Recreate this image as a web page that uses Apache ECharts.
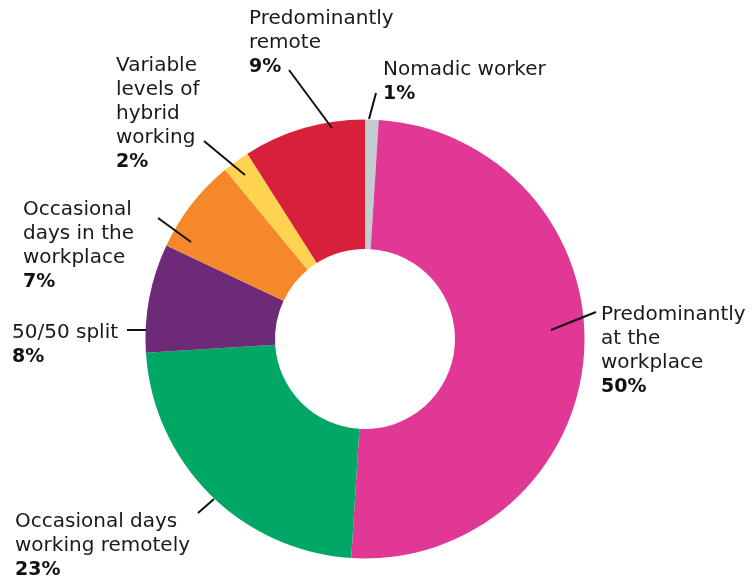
<!DOCTYPE html>
<html>
<head>
<meta charset="utf-8">
<script src="https://cdn.jsdelivr.net/npm/echarts@6/dist/echarts.min.js"></script>
<style>
  html, body { margin: 0; padding: 0; background: #fff; }
  #chart { width: 752px; height: 580px; }
</style>
</head>
<body>
<div id="chart"></div>
<script>
// slices, clockwise from 12 o'clock
const categories = [
    'Nomadic worker',
    'Predominantly\nat the\nworkplace',
    'Occasional days\nworking remotely',
    '50/50 split',
    'Occasional\ndays in the\nworkplace',
    'Variable\nlevels of\nhybrid\nworking',
    'Predominantly\nremote'
]
const shares = [1, 50, 23, 8, 7, 2, 9]
const colors = ['#c4cbd1', '#e03894', '#00a765', '#6c2a77', '#f4882a', '#fed351', '#d9203a']

// where each label block sits and where its leader line runs (label end -> slice end)
const labelPos = [
    { x: 383, y: 58, line: [[376, 93], [369, 119]] },
    { x: 601, y: 303, line: [[596, 312], [551, 330]] },
    { x: 15, y: 510, line: [[198, 513], [214, 499]] },
    { x: 12, y: 321, line: [[127, 330], [146, 330]] },
    { x: 23, y: 198, line: [[158, 218], [191, 242]] },
    { x: 116, y: 54, line: [[204, 141], [245, 175]] },
    { x: 249, y: 7, line: [[289, 70], [332, 128]] }
]

const FONT = '"DejaVu Sans", sans-serif'

const chart = echarts.init(document.getElementById('chart'))
chart.setOption({
    animation: false,
    // leader lines, drawn on top of the ring
    graphic: labelPos.map(p => ({
        type: 'polyline',
        z: 100,
        silent: true,
        shape: { points: p.line },
        style: { stroke: '#111', lineWidth: 2, fill: null }
    })),
    series: [{
        type: 'pie',
        center: [365, 339],
        radius: [90, 219.5],
        startAngle: 90,
        clockwise: true,
        avoidLabelOverlap: false,
        itemStyle: { borderWidth: 0 },
        emphasis: { disabled: true },
        data: categories.map((name, i) => ({
            name: name,
            value: shares[i],
            itemStyle: { color: colors[i] }
        })),
        label: {
            show: true,
            position: 'outside',
            color: '#1a1a1a',
            fontFamily: FONT,
            fontSize: 20,
            lineHeight: 24,
            formatter: p => p.name + '\n{v|' + p.value + '%}',
            rich: {
                v: {
                    fontFamily: FONT,
                    fontWeight: 'bold',
                    fontSize: 19,
                    lineHeight: 24,
                    color: '#111'
                }
            }
        },
        labelLine: { show: false },
        labelLayout: function (params) {
            const p = labelPos[params.dataIndex]
            return {
                x: p.x,
                y: p.y,
                align: 'left',
                verticalAlign: 'top'
            }
        }
    }]
})
</script>
</body>
</html>
